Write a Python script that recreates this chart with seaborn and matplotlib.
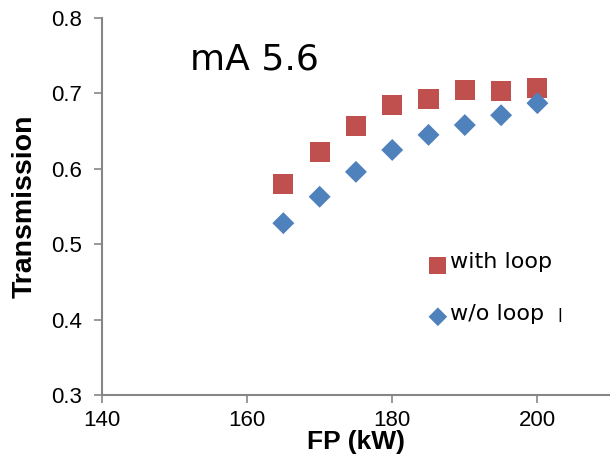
import matplotlib
matplotlib.use("Agg")
import matplotlib.pyplot as plt
import seaborn as sns
import pandas as pd

# Forward power (kW) and measured transmission
fp_kw = [165, 170, 175, 180, 185, 190, 195, 200]
with_loop = [0.580, 0.622, 0.657, 0.685, 0.693, 0.705, 0.703, 0.707]
without_loop = [0.528, 0.563, 0.596, 0.625, 0.645, 0.658, 0.671, 0.687]

series_names = ["with loop", "w/o loop"]
title_text = "mA 5.6"

df_with = pd.DataFrame({"FP": fp_kw, "T": with_loop})
df_wo = pd.DataFrame({"FP": fp_kw, "T": without_loop})

sns.set_style("white")
plt.rcParams["font.family"] = ["Liberation Sans", "DejaVu Sans"]
plt.rcParams["text.color"] = "black"
plt.rcParams["axes.labelcolor"] = "black"

red = "#C0504D"
blue = "#4F81BD"
axis_gray = "#868686"

fig = plt.figure(figsize=(6.1, 4.59), dpi=100)
ax = fig.add_axes([0.167, 0.139, 0.833, 0.822])

sns.scatterplot(data=df_with, x="FP", y="T", marker="s", s=210, color=red,
                edgecolor="none", linewidth=0, ax=ax, label=series_names[0])
sns.scatterplot(data=df_wo, x="FP", y="T", marker="D", s=125, color=blue,
                edgecolor="none", linewidth=0, ax=ax, label=series_names[1])

ax.set_xlim(140, 210)
ax.set_ylim(0.3, 0.8)
ax.set_xticks([140, 160, 180, 200])
ax.set_yticks([0.3, 0.4, 0.5, 0.6, 0.7, 0.8])
ax.set_yticklabels([f"{v:.1f}" for v in [0.3, 0.4, 0.5, 0.6, 0.7, 0.8]])

for side in ["top", "right"]:
    ax.spines[side].set_visible(False)
for side in ["left", "bottom"]:
    ax.spines[side].set_color(axis_gray)
    ax.spines[side].set_linewidth(1.5)

ax.tick_params(axis="both", which="major", direction="out", length=6,
               width=1.2, color=axis_gray, labelsize=16, labelcolor="black",
               bottom=True, left=True)
ax.tick_params(axis="x", pad=5)
ax.tick_params(axis="y", pad=8)

ax.set_xlabel("FP (kW)", fontsize=19, fontweight="bold", labelpad=-1)
ax.set_ylabel("Transmission", fontsize=20.5, fontweight="bold", labelpad=10)

ax.text(0.173, 0.889, title_text, transform=ax.transAxes, fontsize=26,
        family=["DejaVu Sans"], ha="left", va="center")

leg = ax.legend(loc="upper left", bbox_to_anchor=(0.6, 0.395), frameon=False,
                fontsize=16, handletextpad=-0.45, labelspacing=1.42,
                markerscale=0.85, borderaxespad=0)
for t in leg.get_texts():
    t.set_family(["DejaVu Sans"])
    t.set_y(3)

fig.text(0.918, 0.309, "l", fontsize=12, family=["DejaVu Sans"],
         ha="center", va="center")

fig.savefig("out.png", dpi=100)
